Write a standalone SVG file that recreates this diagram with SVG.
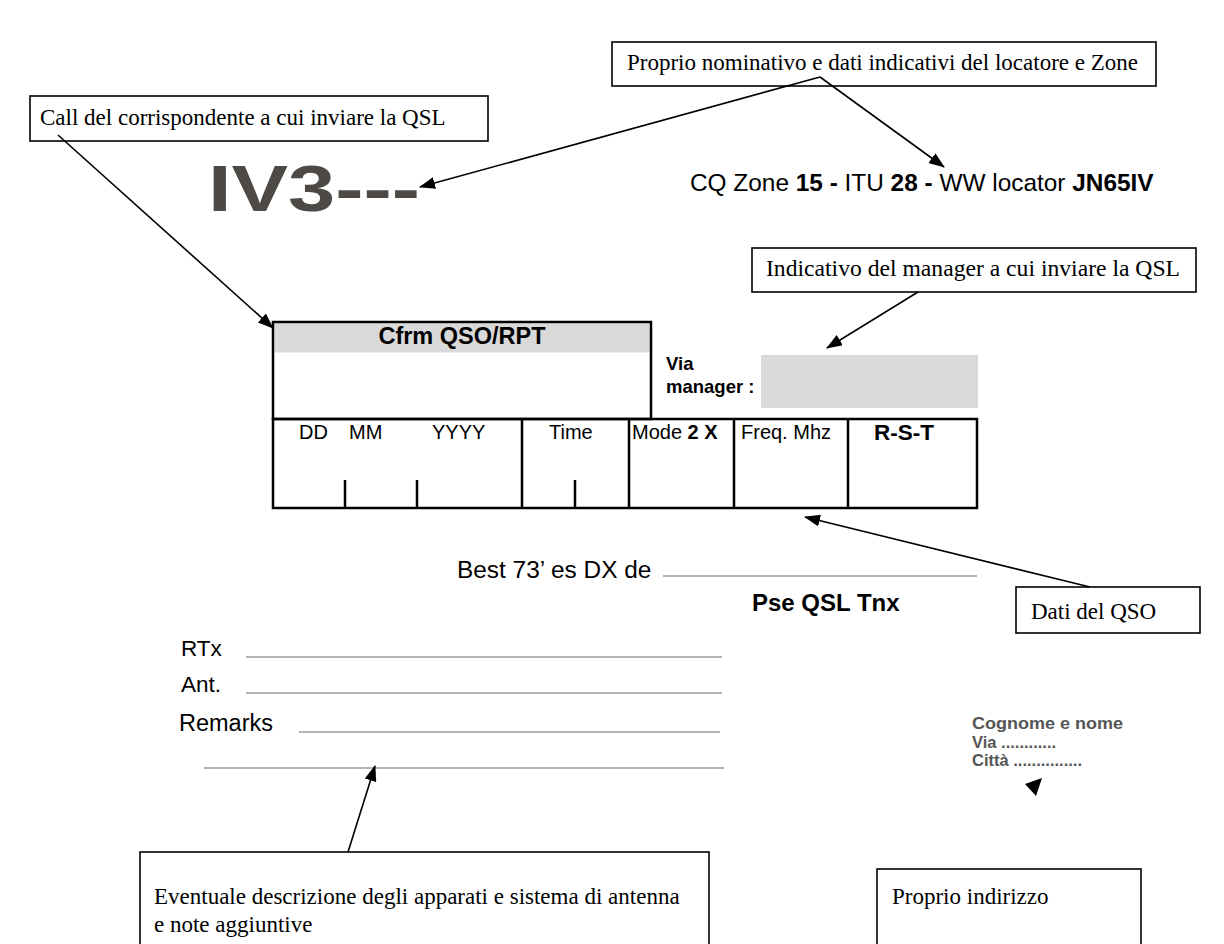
<svg xmlns="http://www.w3.org/2000/svg" width="1224" height="944" viewBox="0 0 1224 944">
<style>
.box{fill:#fff;stroke:#000;stroke-width:1.6}
.ct{font-family:"Liberation Serif",serif;font-size:23px;fill:#000}
.sans{font-family:"Liberation Sans",Arial,sans-serif;fill:#000}
.b{font-weight:bold}
.tbl{fill:none;stroke:#000;stroke-width:2.5}
.rule{stroke:#9a9a9a;stroke-width:1.5}
.con{stroke:#000;stroke-width:1.6;fill:none}
.addr{font-family:"Liberation Sans",Arial,sans-serif;font-weight:bold;font-size:16.5px;fill:#555}
</style>
<defs>
<marker id="ah" markerWidth="16" markerHeight="12" refX="15" refY="6" orient="auto" markerUnits="userSpaceOnUse">
<path d="M0,0 L16,6 L0,12 z" fill="#000"/>
</marker>
</defs>
<rect width="1224" height="944" fill="#fff"/>

<g id="card">
<text x="208" y="211" class="sans b" font-size="64" style="fill:#4d4a45" textLength="212" lengthAdjust="spacingAndGlyphs">IV3---</text>
<text x="690" y="191" class="sans" font-size="24.4">CQ Zone <tspan class="b">15 -</tspan> ITU <tspan class="b">28 -</tspan> WW locator <tspan class="b">JN65IV</tspan></text>

<rect x="274.5" y="323.5" width="375" height="29" fill="#d9d9d9"/>
<rect x="273" y="322" width="378" height="97" class="tbl"/>
<text x="462" y="344" class="sans b" font-size="23.5" text-anchor="middle">Cfrm QSO/RPT</text>
<text x="666" y="370" class="sans b" font-size="18.5">Via</text>
<text x="666" y="393" class="sans b" font-size="18.5">manager :</text>
<rect x="761" y="355" width="217" height="53" fill="#d9d9d9"/>

<rect x="273" y="419" width="704" height="89" class="tbl"/>
<path d="M522,419V508M629,419V508M734,419V508M848,419V508M345,480V508M417,480V508M575,480V508" class="tbl"/>
<text y="439" class="sans" font-size="20"><tspan x="299">DD</tspan><tspan x="349">MM</tspan><tspan x="432">YYYY</tspan><tspan x="549">Time</tspan><tspan x="632">Mode <tspan class="b">2 X</tspan></tspan><tspan x="741">Freq. Mhz</tspan></text>
<text x="874" y="440" class="sans b" font-size="22.5">R-S-T</text>

<text x="457" y="578" class="sans" font-size="24.4">Best 73’ es DX de</text>
<line x1="663" y1="576" x2="977" y2="576" class="rule"/>
<text x="752" y="611" class="sans b" font-size="24">Pse QSL Tnx</text>

<text x="181" y="656" class="sans" font-size="22.5">RTx</text>
<line x1="246" y1="657" x2="722" y2="657" class="rule"/>
<text x="181" y="692" class="sans" font-size="22.5">Ant.</text>
<line x1="246" y1="693" x2="722" y2="693" class="rule"/>
<text x="179" y="731" class="sans" font-size="23.5">Remarks</text>
<line x1="299" y1="732" x2="720" y2="732" class="rule"/>
<line x1="204" y1="768" x2="724" y2="768" class="rule"/>

<text x="972" y="729" class="addr" textLength="151" lengthAdjust="spacingAndGlyphs">Cognome e nome</text>
<text x="972" y="747.5" class="addr">Via ............</text>
<text x="972" y="766" class="addr">Città ...............</text>
<polygon points="1025,784 1042,778 1036,796" fill="#000"/>
</g>

<g id="node-nominativo">
<rect x="612" y="42" width="544" height="44" class="box"/>
<text x="627" y="70" class="ct">Proprio nominativo e dati indicativi del locatore e Zone</text>
</g>
<g id="node-call">
<rect x="30" y="96" width="458" height="45" class="box"/>
<text x="40" y="125" class="ct">Call del corrispondente a cui inviare la QSL</text>
</g>
<g id="node-manager">
<rect x="752" y="248" width="444" height="44" class="box"/>
<text x="766" y="276" class="ct" textLength="414" lengthAdjust="spacingAndGlyphs">Indicativo del manager a cui inviare la QSL</text>
</g>
<g id="node-dati">
<rect x="1016" y="587" width="184" height="46" class="box"/>
<text x="1031" y="619" class="ct">Dati del QSO</text>
</g>
<g id="node-eventuale">
<rect x="140" y="852" width="569" height="110" class="box"/>
<text x="154" y="904" class="ct">Eventuale descrizione degli apparati e sistema di antenna</text>
<text x="154" y="932" class="ct">e note aggiuntive</text>
</g>
<g id="node-indirizzo">
<rect x="877" y="869" width="264" height="90" class="box"/>
<text x="892" y="904" class="ct">Proprio indirizzo</text>
</g>

<g id="connectors">
<line x1="820" y1="77" x2="420" y2="187" class="con" marker-end="url(#ah)"/>
<line x1="820" y1="77" x2="944" y2="167" class="con" marker-end="url(#ah)"/>
<line x1="58" y1="135" x2="273" y2="328" class="con" marker-end="url(#ah)"/>
<line x1="918" y1="292" x2="827" y2="348" class="con" marker-end="url(#ah)"/>
<line x1="1090" y1="587" x2="805" y2="517" class="con" marker-end="url(#ah)"/>
<line x1="348" y1="852" x2="375" y2="766" class="con" marker-end="url(#ah)"/>
</g>
</svg>
